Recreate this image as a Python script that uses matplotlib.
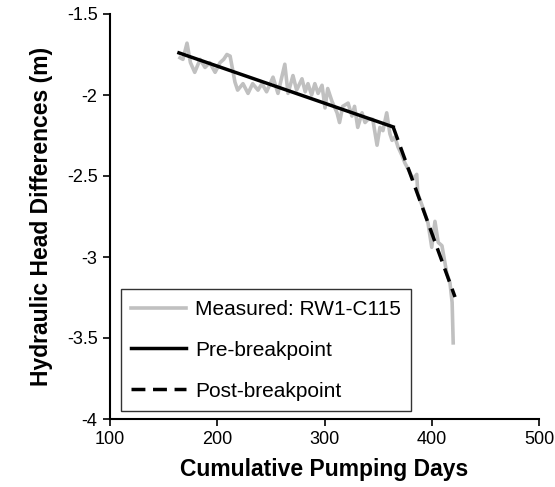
import numpy as np
import matplotlib
matplotlib.use('Agg')
import matplotlib.pyplot as plt

plt.rcParams['font.family'] = ['Liberation Sans', 'DejaVu Sans']
plt.rcParams['axes.unicode_minus'] = False

# measured head differences, RW1-C115
meas_days = [165.3, 168, 171.8, 175, 179, 184, 188.6, 193, 198, 202.6, 206, 209, 212,
             216.5, 219, 224, 228.7, 233, 238, 241.7, 246, 252, 256.6, 263, 266, 270.6,
             274, 279, 282, 284.6, 288, 291, 294, 297.7, 300.5, 303, 307, 311.7, 314,
             317, 322, 325.6, 328, 331, 335, 337.8, 340.6, 345, 349, 351.7, 354.5, 358,
             361, 363, 365.7, 368.5, 372, 375, 379, 382.5, 386, 387, 392, 396.5, 400,
             403, 406, 409.5, 414, 417, 419, 420]
meas_head = [-1.77, -1.78, -1.68, -1.80, -1.86, -1.78, -1.83, -1.80, -1.86, -1.80, -1.78,
             -1.75, -1.76, -1.92, -1.97, -1.93, -1.99, -1.93, -1.97, -1.93, -1.98, -1.89,
             -1.99, -1.81, -1.99, -1.88, -1.97, -1.90, -1.98, -1.93, -2.00, -1.93, -1.99,
             -1.94, -2.08, -1.96, -2.04, -2.11, -2.17, -2.07, -2.05, -2.13, -2.07, -2.20,
             -2.11, -2.17, -2.15, -2.15, -2.31, -2.20, -2.22, -2.11, -2.24, -2.28, -2.26,
             -2.32, -2.37, -2.42, -2.47, -2.52, -2.49, -2.61, -2.70, -2.79, -2.94, -2.78,
             -2.91, -2.93, -3.10, -3.16, -3.28, -3.53]

# fitted segments
pre_days = [164.3, 364.0]
pre_head = [-1.74, -2.197]
post_days = [364.0, 421.7]
post_head = [-2.197, -3.247]

fig = plt.figure(figsize=(5.55, 4.87), dpi=100)
ax = fig.add_axes([110 / 555, 68 / 487, 429 / 555, 405 / 487])

ax.plot(meas_days, meas_head, color='#C0C0C0', linewidth=2.6, label='Measured: RW1-C115')
ax.plot(pre_days, pre_head, color='black', linewidth=2.5, label='Pre-breakpoint')
ax.plot(post_days, post_head, color='black', linewidth=2.5, dashes=(4, 2.2),
        label='Post-breakpoint')

ax.set_xlim(100, 500)
ax.set_ylim(-4, -1.5)
ax.set_xticks([100, 200, 300, 400, 500])
ax.set_yticks([-4, -3.5, -3, -2.5, -2, -1.5])
ax.yaxis.set_major_formatter(plt.FuncFormatter(lambda v, p: f"{v:g}"))

for s in ['top', 'right']:
    ax.spines[s].set_visible(False)
for s in ['left', 'bottom']:
    ax.spines[s].set_linewidth(1.5)
ax.tick_params(direction='out', length=5, width=1.2, labelsize=13, pad=4)

ax.set_xlabel('Cumulative Pumping Days', fontsize=16.5, fontweight='bold', labelpad=7)
ax.set_ylabel('Hydraulic Head Differences (m)', fontsize=16.5, fontweight='bold', labelpad=10)

leg = ax.legend(loc='lower left', bbox_to_anchor=(0.0256, 0.0198), borderaxespad=0,
                fontsize=15, frameon=True, fancybox=False, edgecolor='black',
                handlelength=2.6, handletextpad=0.45, labelspacing=1.05,
                borderpad=0.5)
leg.get_frame().set_linewidth(1.0)

plt.savefig('out.png', dpi=100)
